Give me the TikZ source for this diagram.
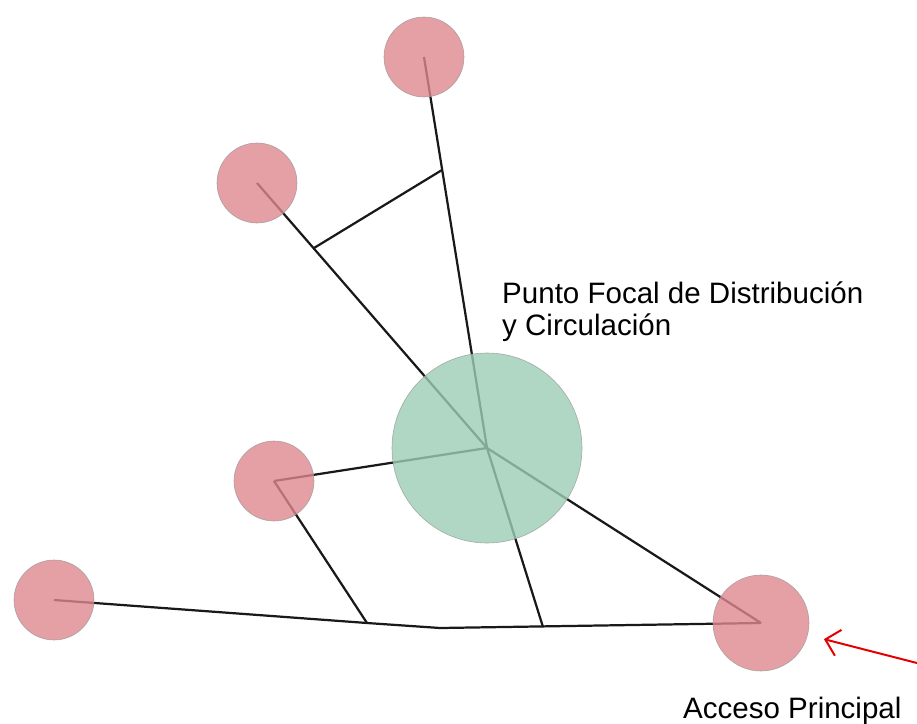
\documentclass[tikz,border=0pt]{standalone}
\usepackage{fontspec}
\setmainfont{Liberation Sans}
\usetikzlibrary{arrows.meta,backgrounds}

\definecolor{rosa}{RGB}{222,136,143}
\definecolor{verde}{RGB}{155,205,180}

\begin{document}
\begin{tikzpicture}[x=0.03cm, y=-0.03cm,
    espacio/.style={circle, draw=black!40, line width=0.5pt, fill=rosa, fill opacity=0.8, draw opacity=0.8, minimum size=2.4cm, inner sep=0pt},
    nucleo/.style={espacio, fill=verde, minimum size=5.7cm},
    eje/.style={line width=1.9pt, black!90, line join=round},
    etiqueta/.style={font=\fontsize{25.2}{27.3}\selectfont, inner sep=0pt, align=left},
    flecha/.style={-{Straight Barb[length=0.4cm, width=0.8cm]}, line width=1.7pt, red!90!black}
]
    \useasboundingbox (0,0) rectangle (917,724);

    % Espacios
    \node[nucleo] (focal) at (487,448) {};
    \node[espacio] (norte) at (424,57) {};
    \node[espacio] (noroeste) at (257,183) {};
    \node[espacio] (oeste) at (274,481) {};
    \node[espacio] (suroeste) at (54,600) {};
    \node[espacio, minimum size=2.88cm] (acceso) at (761,623) {};

    % Quiebres de los recorridos
    \coordinate (j1) at (442,170);
    \coordinate (j2) at (314,248);
    \coordinate (j3) at (367,623);
    \coordinate (j4) at (440,628);
    \coordinate (j5) at (543,627);
    \coordinate (llegada) at (917,663);

    % Recorridos
    \begin{scope}[on background layer]
        \draw[eje] (norte.center) -- (focal.center);
        \draw[eje] (noroeste.center) -- (focal.center);
        \draw[eje] (j1) -- (j2);
        \draw[eje] (oeste.center) -- (focal.center);
        \draw[eje] (oeste.center) -- (j3);
        \draw[eje] (suroeste.center) -- (j3) -- (j4) -- (acceso.center);
        \draw[eje] (focal.center) -- (j5);
        \draw[eje] (focal.center) -- (acceso.center);
    \end{scope}

    % Textos
    \node[etiqueta, anchor=base west] (titulo) at (502,335) {Punto Focal de Distribución\\y Circulación};
    \node[etiqueta, anchor=base west] (entrada) at (683,718) {Acceso Principal};

    % Acceso
    \draw[flecha, shorten >=0.5cm] (llegada) -- (acceso);
\end{tikzpicture}
\end{document}
